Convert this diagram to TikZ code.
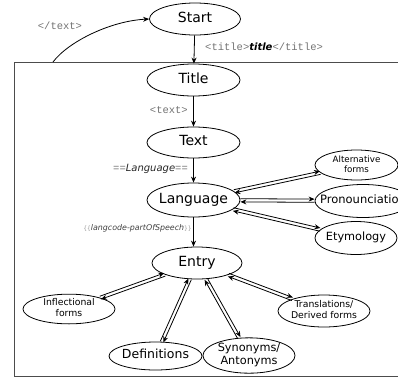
\documentclass[tikz,border=0pt]{standalone}
\usepackage{fontspec}
\setmainfont{DejaVu Sans}
\newfontfamily\monofnt{Liberation Mono}
\usetikzlibrary{arrows.meta,calc,shapes.geometric}
\newcommand\ctext[1]{\makebox[0pt]{\begin{tabular}{@{}c@{}}#1\end{tabular}}}
\newcommand\twoway[2]{%
  \path (#1) -- (#2) coordinate[pos=0] (p1) coordinate[pos=1] (p2);
  \draw[arr] ($(p1)!1.6pt!90:(p2)$) -- ($(p2)!1.6pt!-90:(p1)$);
  \draw[arr] ($(p2)!1.6pt!90:(p1)$) -- ($(p1)!1.6pt!-90:(p2)$);
}
\begin{document}
\begin{tikzpicture}[x=1pt,y=-1pt,
  el/.style={ellipse,draw,line width=0.8pt,inner sep=0pt,fill=white},
  big/.style={el,font=\fontsize{14}{16}\selectfont},
  mid/.style={el,font=\fontsize{11.3}{12.5}\selectfont},
  sml/.style={el,font=\fontsize{9.3}{10.5}\selectfont},
  arr/.style={-{Stealth[length=6pt,width=5pt]},line width=0.8pt},
  lbl/.style={text=black!55,font=\monofnt\fontsize{10.5}{12}\selectfont,inner sep=0pt},
  frame/.style={draw=black!70,line width=0.8pt},
]
\useasboundingbox (0,0) rectangle (398,378);
\clip (0,0) rectangle (398,378);

% frame
\draw[frame] (420,62) -- (14,62) -- (14,376) -- (420,376);
\coordinate (boxpt) at (53,62);

% main column
\node[big,minimum width=91pt,minimum height=32pt] (start) at (195,19) {\ctext{Start}};
\node[big,minimum width=93pt,minimum height=32pt] (title) at (193.5,80) {\ctext{Title}};
\node[big,minimum width=93pt,minimum height=31pt] (text) at (193.5,142.5) {\ctext{Text}};
\node[big,minimum width=93pt,minimum height=34pt] (lang) at (193.5,200) {\ctext{Language}};
\node[big,minimum width=90pt,minimum height=32pt] (entry) at (197,263) {\ctext{Entry}};

% language children
\node[sml,font=\fontsize{8.7}{10}\selectfont,minimum width=83pt,minimum height=30pt] (alt) at (356.5,165) {\ctext{Alternative\\forms}};
\node[mid,font=\fontsize{11.5}{13}\selectfont,minimum width=96pt,minimum height=33pt] (pron) at (363,201) {\ctext{Pronounciation}};
\node[mid,minimum width=82pt,minimum height=33pt] (ety) at (356,238) {\ctext{Etymology}};

% entry children
\node[sml,minimum width=92pt,minimum height=28pt] (infl) at (69,309) {\ctext{Inflectional\\forms}};
\node[mid,font=\fontsize{12.5}{14}\selectfont,minimum width=93pt,minimum height=28pt] (defs) at (155.5,356) {\ctext{Definitions}};
\node[mid,minimum width=92pt,minimum height=35pt] (syn) at (249,355.5) {\ctext{Synonyms/\\Antonyms}};
\node[sml,minimum width=92pt,minimum height=32pt] (trans) at (324,311) {\ctext{Translations/\\Derived forms}};

% vertical arrows
\draw[arr] (start) -- (title);
\draw[arr] (title) -- (text);
\draw[arr] (text) -- (lang);
\draw[arr] (lang.south) -- (lang.south |- entry.north);

% back arrow
\draw[arr] (boxpt) .. controls (68,42) and (110,21) .. (start.west);

% two-way links
\twoway{lang}{alt}
\twoway{lang}{pron}
\twoway{lang}{ety}
\twoway{entry}{infl}
\twoway{entry}{defs}
\twoway{entry}{syn}
\twoway{entry}{trans}

% labels
\node[lbl] (l1) at (60,26) {</text>};
\node[lbl,anchor=west] (l2) at (205,47) {<title>\textcolor{black}{\rmfamily\bfseries\itshape\fontsize{10}{12}\selectfont title}</title>};
\node[lbl,anchor=east] (l3) at (188,110) {<text>};
\node[lbl,anchor=east] (l4) at (188,169) {==\textcolor{black!85}{\rmfamily\itshape\fontsize{10}{12}\selectfont Language}==};
\node[anchor=east,inner sep=0pt] (l5) at (192,228) {\textcolor{black!40}{\fontsize{6}{7}\selectfont\{\{}\textcolor{black!75}{\itshape\fontsize{7.9}{9}\selectfont langcode-partOfSpeech}\textcolor{black!40}{\fontsize{6}{7}\selectfont\}\}}};
\end{tikzpicture}
\end{document}
